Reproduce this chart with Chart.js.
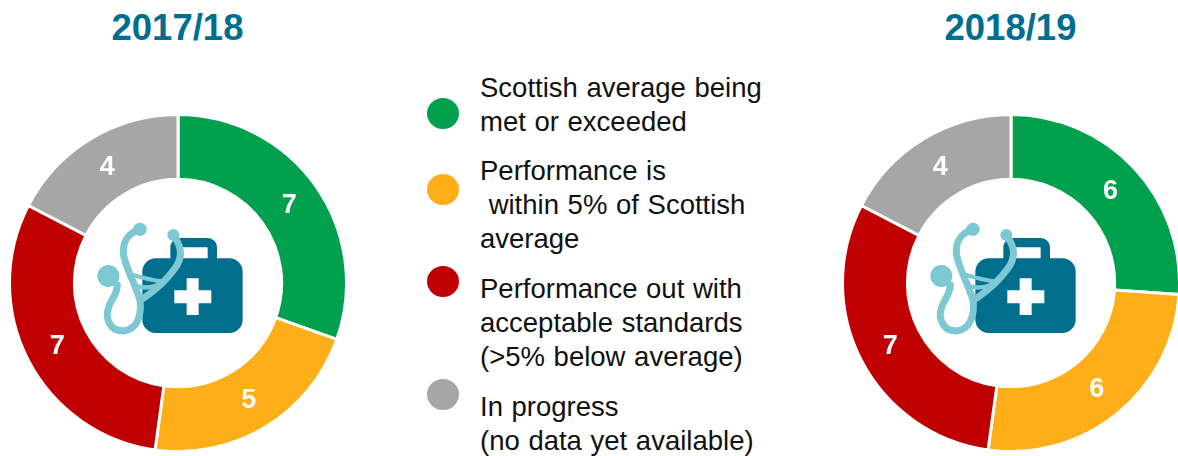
<!DOCTYPE html>
<html>
<head>
<meta charset="utf-8">
<script src="https://cdn.jsdelivr.net/npm/chart.js@4"></script>
<style>
html,body{margin:0;padding:0;background:#fff;width:1178px;height:456px;overflow:hidden;font-family:"Liberation Sans",Arial,sans-serif}
.abs{position:absolute}
canvas.abs{display:block}
.title{color:#006f8e;font-weight:bold;font-size:36.5px;line-height:40px;white-space:nowrap;transform:translateX(-50%)}
.line{color:#111;font-size:27.5px;line-height:34px;white-space:pre;word-spacing:1px}
.dot{border-radius:50%;width:32px;height:31px}
svg.abs{overflow:visible}
</style>
</head>
<body>
<div id="root"></div>
<script>
const categories = ["Scottish average being met or exceeded","Performance is within 5% of Scottish average","Performance out with acceptable standards (>5% below average)","In progress (no data yet available)"];
const colours = ["#00a04f","#fdae19","#c00000","#a6a6a6"];
const values1718 = [7,5,7,4];
const values1819 = [6,6,7,4];
const titles = ["2017/18","2018/19"];
const legendLines = [
  [["Scottish average being",88],["met or exceeded",122]],
  [["Performance is",171],[" within 5% of Scottish",205],["average",239]],
  [["Performance out with",289],["acceptable standards",323],["(>5% below average)",357]],
  [["In progress",407],["(no data yet available)",441]]
];
const legendDotY = [113,189,281,394];

const root = document.getElementById('root');
function el(tag, cls, css, text){
  const e = document.createElement(tag);
  if(cls) e.className = cls;
  Object.assign(e.style, css);
  if(text !== undefined) e.textContent = text;
  root.appendChild(e);
  return e;
}
const valueLabels = {
  id:'valueLabels',
  afterDatasetsDraw(chart){
    const ctx = chart.ctx, ds = chart.data.datasets[0];
    chart.getDatasetMeta(0).data.forEach((arc,i)=>{
      const p = arc.tooltipPosition();
      ctx.save();
      ctx.fillStyle = '#fff';
      ctx.font = 'bold 27px "Liberation Sans", Arial, sans-serif';
      ctx.textAlign = 'center';
      ctx.textBaseline = 'middle';
      ctx.fillText(ds.data[i], p.x, p.y+1);
      ctx.restore();
    });
  }
};
function donut(values, cx, title, titleX){
  el('div','abs title',{left:titleX+'px',top:'8px'},title);
  const c = el('canvas','abs',{left:(cx-170)+'px',top:(283-170)+'px'});
  c.width = 340; c.height = 340;
  new Chart(c,{
    type:'doughnut',
    data:{labels:categories,datasets:[{data:values,backgroundColor:colours,borderColor:'#fff',borderWidth:3}]},
    options:{responsive:false,animation:false,cutout:'61.5%',layout:{padding:0},
      plugins:{legend:{display:false},tooltip:{enabled:false}}},
    plugins:[valueLabels]
  });
  const ns='http://www.w3.org/2000/svg';
  const s=document.createElementNS(ns,'svg');
  s.setAttribute('class','abs');
  s.setAttribute('viewBox','0 0 660 450');
  s.setAttribute('width','220'); s.setAttribute('height','150');
  s.style.left=(cx-118)+'px'; s.style.top='200px';
  s.innerHTML=`
   <path d="M345 180 V143 Q345 128 362 128 H440 Q457 128 457 143 V180" fill="none" stroke="#006f8e" stroke-width="28"/>
   <rect x="247" y="175" width="301" height="224" rx="40" fill="#006f8e"/>
   <path d="M380 235h36v36h38v39h-38v35h-36v-35h-37v-39h37z" fill="#fff"/>
   <path d="M240 88 C205 98 188 125 190 160 C195 200 225 250 240 300 C245 340 235 385 195 392 C150 398 135 355 145 325 C150 300 170 290 172 255" fill="none" stroke="#7cc8d3" stroke-width="21" stroke-linecap="round"/>
   <path d="M340 105 C365 140 370 170 345 205 C320 240 280 275 250 295" fill="none" stroke="#7cc8d3" stroke-width="21" stroke-linecap="round"/>
   <path d="M210 222 C240 232 275 240 310 245 C285 262 260 268 228 258" fill="none" stroke="#7cc8d3" stroke-width="13"/>
   <circle cx="240" cy="88" r="20" fill="#7cc8d3"/>
   <circle cx="340" cy="105" r="18" fill="#7cc8d3"/>
   <circle cx="145" cy="228" r="33" fill="#7cc8d3"/>`;
  root.appendChild(s);
}
donut(values1718,178,titles[0],177.5);
donut(values1819,1011,titles[1],1010.5);
legendDotY.forEach((y,i)=>{
  el('div','abs dot',{left:'427px',top:(y-15)+'px',background:colours[i]});
  legendLines[i].forEach(([t,ly])=>el('div','abs line',{left:'480px',top:(ly-17)+'px'},t));
});
</script>
</body>
</html>
